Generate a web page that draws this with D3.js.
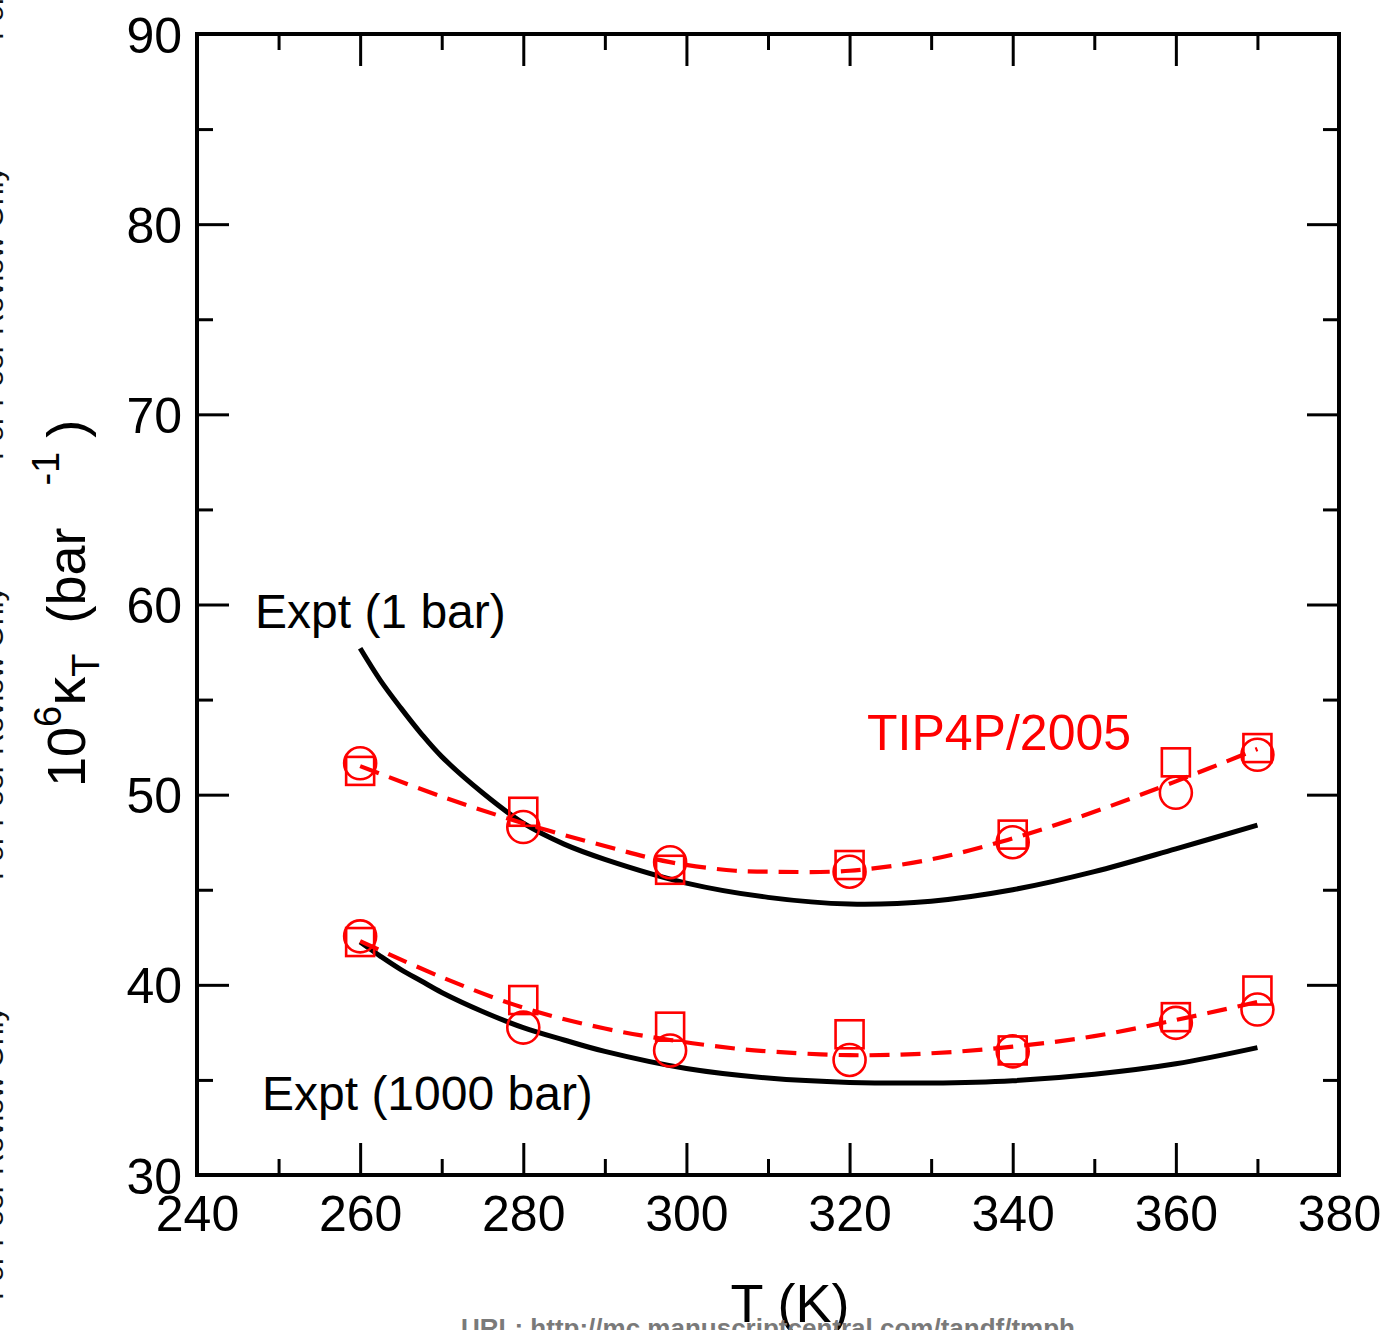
<!DOCTYPE html>
<html>
<head>
<meta charset="utf-8">
<script src="https://cdn.jsdelivr.net/npm/d3@7"></script>
<style>
  html, body { margin: 0; padding: 0; background: #fff; }
  svg { display: block; }
  text { font-family: "Liberation Sans", Arial, Helvetica, sans-serif; }
</style>
</head>
<body>
<svg id="chart" width="1390" height="1330"></svg>
<script>
// ---------------- data ----------------
const xTicks = [240, 260, 280, 300, 320, 340, 360, 380];
const xMinor = [250, 270, 290, 310, 330, 350, 370];
const yTicks = [30, 40, 50, 60, 70, 80, 90];
const yMinor = [35, 45, 55, 65, 75, 85];

const simT = [260, 280, 298, 320, 340, 360, 370];
// TIP4P/2005, 1 bar
const sim1Circle = [51.65, 48.3, 46.45, 45.95, 47.5, 50.1, 52.1];
const sim1Square = [51.25, 49.1, 46.05, 46.3, 47.9, 51.7, 52.45];
// TIP4P/2005, 1000 bar
const sim1000Circle = [42.55, 37.75, 36.55, 36.05, 36.5, 38.0, 38.7];
const sim1000Square = [42.25, 39.2, 37.8, 37.4, 36.55, 38.3, 39.7];

// fitted dashed curves
const fitT = [260, 270, 280, 290, 298, 306, 310, 320, 330, 340, 350, 360, 370];
const fit1 = [51.5, 49.9, 48.5, 47.3, 46.45, 46.0, 45.95, 46.0, 46.6, 47.7, 49.1, 50.7, 52.4];
const fit1000 = [42.3, 40.4, 38.8, 37.7, 37.1, 36.65, 36.5, 36.3, 36.4, 36.75, 37.3, 38.15, 39.1];

// experimental curves
const exptT = [260, 262.5, 265, 267.5, 270, 275, 280, 285, 290, 300, 310, 320, 330, 340, 350, 360, 370];
const expt1 = [57.7, 56.0, 54.55, 53.2, 52.0, 50.1, 48.5, 47.4, 46.6, 45.35, 44.6, 44.25, 44.4, 45.0, 45.95, 47.15, 48.4];
const expt1000 = [42.25, 41.5, 40.8, 40.2, 39.6, 38.6, 37.75, 37.1, 36.5, 35.6, 35.1, 34.87, 34.84, 34.96, 35.3, 35.85, 36.7];

const labels = [
  { text: "Expt (1 bar)", x: 255, y: 628, color: "#000", size: 48 },
  { text: "TIP4P/2005", x: 867, y: 750, color: "#ff0000", size: 50 },
  { text: "Expt (1000 bar)", x: 262, y: 1110, color: "#000", size: 48 }
];

// ---------------- layout ----------------
const L = 197, R = 1339, T = 34, B = 1175;
const svg = d3.select("#chart");
const x = d3.scaleLinear().domain([240, 380]).range([L, R]);
const y = d3.scaleLinear().domain([30, 90]).range([B, T]);

// watermark fragments on left edge (mostly cut off)
const wm = svg.append("g");
[0, 1, 2, 3].forEach(i => {
  wm.append("text")
    .attr("transform", `translate(3, ${1300 - i * 420}) rotate(-90)`)
    .attr("font-size", 30)
    .attr("fill", "#111")
    .text("For Peer Review Only");
});

// axes
function styleAxis(g) {
  g.select(".domain").remove();
  g.selectAll(".tick line").attr("stroke", "#000").attr("stroke-width", 3);
  g.selectAll(".tick text").attr("font-size", 50).attr("fill", "#000")
    .attr("font-family", '"Liberation Sans", Arial, sans-serif');
}
svg.append("g").attr("transform", `translate(0,${B})`)
  .call(d3.axisBottom(x).tickValues(xTicks).tickFormat(d3.format("d")).tickSize(-32).tickPadding(20))
  .call(styleAxis);
svg.append("g").attr("transform", `translate(0,${B})`)
  .call(d3.axisBottom(x).tickValues(xMinor).tickFormat("").tickSize(-16))
  .call(styleAxis);
svg.append("g").attr("transform", `translate(0,${T})`)
  .call(d3.axisTop(x).tickValues(xTicks).tickFormat("").tickSize(-32))
  .call(styleAxis);
svg.append("g").attr("transform", `translate(0,${T})`)
  .call(d3.axisTop(x).tickValues(xMinor).tickFormat("").tickSize(-16))
  .call(styleAxis);
const yl = svg.append("g").attr("transform", `translate(${L},0)`)
  .call(d3.axisLeft(y).tickValues(yTicks).tickFormat(d3.format("d")).tickSize(-32).tickPadding(15))
  .call(styleAxis);
yl.selectAll(".tick text").attr("dy", "0.36em");
svg.append("g").attr("transform", `translate(${L},0)`)
  .call(d3.axisLeft(y).tickValues(yMinor).tickFormat("").tickSize(-16))
  .call(styleAxis);
svg.append("g").attr("transform", `translate(${R},0)`)
  .call(d3.axisRight(y).tickValues(yTicks).tickFormat("").tickSize(-32))
  .call(styleAxis);
svg.append("g").attr("transform", `translate(${R},0)`)
  .call(d3.axisRight(y).tickValues(yMinor).tickFormat("").tickSize(-16))
  .call(styleAxis);

// frame
svg.append("rect").attr("x", L).attr("y", T).attr("width", R - L).attr("height", B - T)
  .attr("fill", "none").attr("stroke", "#000").attr("stroke-width", 4);

// lines
const line = d3.line().x(d => x(d[0])).y(d => y(d[1])).curve(d3.curveCatmullRom.alpha(0.5));
function drawLine(ts, vs, color, width, dash) {
  svg.append("path").datum(ts.map((t, i) => [t, vs[i]]))
    .attr("d", line).attr("fill", "none").attr("stroke", color)
    .attr("stroke-width", width).attr("stroke-dasharray", dash || null);
}
drawLine(exptT, expt1, "#000", 5);
drawLine(exptT, expt1000, "#000", 5);
drawLine(fitT, fit1, "#ff0000", 4.2, "20,11");
drawLine(fitT, fit1000, "#ff0000", 4.2, "20,11");

// markers
function squares(vs) {
  svg.append("g").selectAll("rect").data(simT.map((t, i) => [t, vs[i]])).join("rect")
    .attr("x", d => x(d[0]) - 14).attr("y", d => y(d[1]) - 14)
    .attr("width", 28).attr("height", 28)
    .attr("fill", "none").attr("stroke", "#ff0000").attr("stroke-width", 2.6);
}
function circles(vs) {
  svg.append("g").selectAll("circle").data(simT.map((t, i) => [t, vs[i]])).join("circle")
    .attr("cx", d => x(d[0])).attr("cy", d => y(d[1])).attr("r", 16)
    .attr("fill", "none").attr("stroke", "#ff0000").attr("stroke-width", 2.6);
}
squares(sim1Square); circles(sim1Circle);
squares(sim1000Square); circles(sim1000Circle);

// annotation labels
labels.forEach(l => {
  svg.append("text").attr("x", l.x).attr("y", l.y).attr("font-size", l.size)
    .attr("fill", l.color).text(l.text);
});

// y axis title
const yt = svg.append("text")
  .attr("transform", "translate(85,787) rotate(-90)")
  .attr("font-size", 54).attr("fill", "#000");
yt.append("tspan").text("10");
yt.append("tspan").attr("font-size", 38).attr("dy", -24).text("6");
yt.append("tspan").attr("dy", 24).attr("font-size", 58).text("κ");
yt.append("tspan").attr("font-size", 38).attr("dy", 14).text("T");
yt.append("tspan").attr("dy", -14).attr("dx", 30).text("(bar");
yt.append("tspan").attr("font-size", 38).attr("dy", -26).attr("dx", 42).text("-1");
yt.append("tspan").attr("dy", 26).attr("dx", 14).text(")");

// x axis title
svg.append("text").attr("x", 790).attr("y", 1322).attr("text-anchor", "middle")
  .attr("font-size", 54).attr("fill", "#000").text("T (K)");

// footer URL
svg.append("text").attr("x", 768).attr("y", 1337).attr("text-anchor", "middle")
  .attr("font-size", 26).attr("font-weight", "bold").attr("fill", "#7a7a7a")
  .text("URL: http://mc.manuscriptcentral.com/tandf/tmph");
</script>
</body>
</html>
